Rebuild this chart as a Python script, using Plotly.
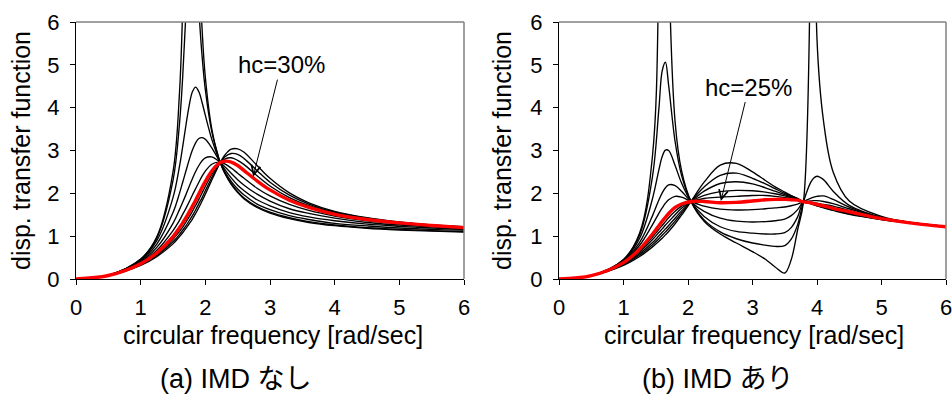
import plotly.graph_objects as go

# ---------------- (a) IMD なし : displacement transfer functions ----------------
freq_a = [0, 0.5, 1.0, 1.25, 1.5, 1.6, 1.65, 1.7, 1.75, 1.8, 1.85, 1.9, 1.95, 2.0, 2.1,
          2.2, 2.23, 2.3, 2.4, 2.5, 2.6, 2.8, 3.0, 3.3, 3.6, 4.0, 4.5, 5.0, 5.5, 6.0]

a_hc00 = [0, 0.086, 0.465, 0.984, 2.50, 4.34, 6.37, 11.1, 35.0, 36.0, 12.56, 7.85, 5.83, 4.71, 3.50,
          2.86, 2.72, 2.47, 2.21, 2.02, 1.87, 1.67, 1.54, 1.41, 1.32, 1.245, 1.184, 1.144, 1.116, 1.096]
a_hc05 = [0, 0.086, 0.460, 0.960, 2.30, 3.62, 4.72, 6.23, 7.89, 8.50, 7.58, 6.27, 5.20, 4.42, 3.44,
          2.86, 2.72, 2.48, 2.23, 2.04, 1.89, 1.69, 1.56, 1.43, 1.34, 1.26, 1.20, 1.16, 1.13, 1.11]
a_hc10 = [0, 0.086, 0.447, 0.896, 1.90, 2.63, 3.09, 3.59, 4.05, 4.37, 4.48, 4.37, 4.12, 3.82, 3.26,
          2.83, 2.72, 2.51, 2.28, 2.10, 1.96, 1.75, 1.62, 1.48, 1.39, 1.30, 1.24, 1.19, 1.16, 1.14]
a_hc15 = [0, 0.085, 0.427, 0.816, 1.55, 2.00, 2.26, 2.52, 2.78, 3.01, 3.18, 3.28, 3.30, 3.26, 3.06,
          2.80, 2.72, 2.56, 2.36, 2.19, 2.06, 1.85, 1.71, 1.55, 1.45, 1.36, 1.28, 1.23, 1.19, 1.16]
a_hc20 = [0, 0.084, 0.404, 0.739, 1.30, 1.62, 1.79, 1.97, 2.16, 2.34, 2.51, 2.65, 2.76, 2.83, 2.85,
          2.76, 2.72, 2.62, 2.47, 2.32, 2.19, 1.98, 1.82, 1.64, 1.53, 1.42, 1.32, 1.26, 1.22, 1.18]
a_hc25 = [0, 0.083, 0.381, 0.671, 1.13, 1.37, 1.51, 1.65, 1.80, 1.96, 2.11, 2.26, 2.40, 2.52, 2.68,
          2.73, 2.72, 2.69, 2.59, 2.47, 2.35, 2.12, 1.94, 1.74, 1.60, 1.47, 1.36, 1.29, 1.23, 1.19]
a_hc30 = [0, 0.081, 0.358, 0.611, 0.99, 1.20, 1.31, 1.43, 1.56, 1.70, 1.84, 1.99, 2.14, 2.28, 2.52,
          2.69, 2.72, 2.75, 2.73, 2.65, 2.53, 2.29, 2.08, 1.84, 1.67, 1.51, 1.39, 1.31, 1.25, 1.20]
a_hc33 = [0, 0.080, 0.344, 0.577, 0.93, 1.11, 1.21, 1.33, 1.45, 1.58, 1.72, 1.86, 2.01, 2.16, 2.44,
          2.67, 2.72, 2.80, 2.83, 2.77, 2.67, 2.41, 2.17, 1.90, 1.71, 1.54, 1.40, 1.32, 1.25, 1.21]
a_hc37 = [0, 0.079, 0.330, 0.548, 0.87, 1.04, 1.14, 1.24, 1.36, 1.48, 1.61, 1.76, 1.90, 2.06, 2.37,
          2.65, 2.72, 2.85, 2.93, 2.91, 2.81, 2.53, 2.26, 1.96, 1.75, 1.56, 1.42, 1.32, 1.26, 1.21]
a_hc40 = [0, 0.078, 0.318, 0.523, 0.82, 0.99, 1.08, 1.18, 1.29, 1.40, 1.53, 1.67, 1.82, 1.98, 2.31,
          2.63, 2.72, 2.89, 3.03, 3.04, 2.96, 2.65, 2.35, 2.01, 1.78, 1.58, 1.43, 1.33, 1.26, 1.22]

# ---------------- (b) IMD あり ----------------
freq_b = [0, 0.5, 1.0, 1.25, 1.45, 1.55, 1.6, 1.65, 1.7, 1.8, 1.9, 2.05, 2.25, 2.5, 2.75, 3.0,
          3.2, 3.35, 3.5, 3.6, 3.7, 3.79, 3.9, 3.95, 4.0, 4.1, 4.25, 4.5, 5.0, 5.5, 6.0]

b_hc01 = [0, 0.080, 0.457, 1.076, 2.89, 7.51, 21.8, 17.7, 7.59, 3.67, 2.53, 1.80, 1.35, 1.05, 0.84, 0.64,
          0.46, 0.28, 0.14, 0.45, 1.15, 1.80, 7.5, 16.0, 5.6, 3.70, 2.50, 1.82, 1.46, 1.31, 1.23]
b_hc06 = [0, 0.079, 0.451, 1.030, 2.40, 4.00, 4.86, 5.06, 4.52, 3.21, 2.42, 1.80, 1.38, 1.10, 0.94, 0.84,
          0.79, 0.76, 0.78, 0.93, 1.27, 1.80, 2.25, 2.36, 2.40, 2.32, 2.05, 1.72, 1.44, 1.31, 1.23]
b_hc10 = [0, 0.079, 0.439, 0.952, 1.88, 2.56, 2.86, 3.01, 3.00, 2.65, 2.24, 1.80, 1.46, 1.22, 1.11, 1.07,
          1.05, 1.05, 1.08, 1.20, 1.45, 1.80, 1.88, 1.91, 1.93, 1.94, 1.86, 1.68, 1.43, 1.31, 1.23]
b_hc15 = [0, 0.079, 0.422, 0.857, 1.48, 1.85, 2.01, 2.13, 2.20, 2.18, 2.05, 1.80, 1.58, 1.42, 1.35, 1.33,
          1.34, 1.36, 1.40, 1.48, 1.62, 1.80, 1.82, 1.83, 1.83, 1.81, 1.76, 1.64, 1.42, 1.30, 1.23]
b_hc20 = [0, 0.078, 0.407, 0.787, 1.27, 1.54, 1.66, 1.77, 1.85, 1.93, 1.91, 1.81, 1.70, 1.63, 1.61, 1.62,
          1.64, 1.66, 1.68, 1.71, 1.75, 1.80, 1.79, 1.78, 1.77, 1.74, 1.70, 1.60, 1.41, 1.30, 1.22]
b_hc25 = [0, 0.077, 0.383, 0.698, 1.05, 1.25, 1.35, 1.44, 1.53, 1.67, 1.75, 1.81, 1.81, 1.78, 1.79, 1.82,
          1.85, 1.86, 1.86, 1.85, 1.84, 1.80, 1.78, 1.76, 1.74, 1.71, 1.65, 1.57, 1.41, 1.30, 1.22]
b_hc28 = [0, 0.077, 0.372, 0.662, 0.98, 1.16, 1.25, 1.34, 1.43, 1.58, 1.70, 1.81, 1.88, 1.91, 1.93, 1.95,
          1.95, 1.93, 1.90, 1.88, 1.85, 1.80, 1.77, 1.75, 1.73, 1.69, 1.64, 1.56, 1.41, 1.30, 1.22]
b_hc30 = [0, 0.076, 0.361, 0.631, 0.92, 1.09, 1.17, 1.26, 1.34, 1.50, 1.65, 1.81, 1.95, 2.04, 2.07, 2.06,
          2.03, 1.99, 1.94, 1.90, 1.86, 1.80, 1.77, 1.75, 1.73, 1.69, 1.63, 1.55, 1.40, 1.30, 1.22]
b_hc34 = [0, 0.076, 0.347, 0.592, 0.85, 1.01, 1.09, 1.17, 1.25, 1.42, 1.59, 1.81, 2.05, 2.23, 2.27, 2.22,
          2.13, 2.05, 1.97, 1.92, 1.87, 1.80, 1.77, 1.74, 1.72, 1.68, 1.62, 1.53, 1.40, 1.30, 1.22]
b_hc38 = [0, 0.075, 0.333, 0.559, 0.80, 0.94, 1.02, 1.10, 1.18, 1.35, 1.54, 1.82, 2.15, 2.42, 2.47, 2.35,
          2.22, 2.11, 2.00, 1.94, 1.87, 1.80, 1.76, 1.74, 1.71, 1.67, 1.61, 1.52, 1.39, 1.30, 1.22]
b_hc42 = [0, 0.074, 0.318, 0.526, 0.75, 0.88, 0.95, 1.03, 1.11, 1.29, 1.49, 1.82, 2.26, 2.66, 2.70, 2.50,
          2.30, 2.15, 2.03, 1.95, 1.88, 1.80, 1.76, 1.73, 1.71, 1.66, 1.60, 1.51, 1.39, 1.30, 1.22]

axis_ticks = [0, 1, 2, 3, 4, 5, 6]
y_title = "disp. transfer function"
x_title = "circular frequency [rad/sec]"
captions = ["(a) IMD なし", "(b) IMD あり"]
labels = ["hc=30%", "hc=25%"]

FONT = "Liberation Sans, Arial, Noto Sans CJK JP, sans-serif"
W, H = 952, 396

fig = go.Figure()

def add_curve(x, y, xa, ya, red=False):
    fig.add_trace(go.Scatter(
        x=x, y=y, xaxis=xa, yaxis=ya, mode="lines",
        line=dict(color="#ff0000" if red else "#000000", width=3.4 if red else 1.35,
                  shape="spline", smoothing=1.0),
        hoverinfo="skip", showlegend=False))

for series in [a_hc00, a_hc05, a_hc10, a_hc15, a_hc20, a_hc25, a_hc33, a_hc37, a_hc40]:
    add_curve(freq_a, series, "x", "y")
add_curve(freq_a, a_hc30, "x", "y", red=True)

for series in [b_hc01, b_hc06, b_hc10, b_hc15, b_hc20, b_hc28, b_hc30, b_hc34, b_hc38, b_hc42]:
    add_curve(freq_b, series, "x2", "y2")
add_curve(freq_b, b_hc25, "x2", "y2", red=True)

# plot-area placement in pixels
left_px = (76, 464)
right_px = (559, 946)
top_px, bot_px = 22, 279
ydom = [1 - bot_px / H, 1 - top_px / H]

axis_common = dict(range=[0, 6], tickvals=axis_ticks, ticks="outside", ticklen=5,
                   tickcolor="black", showline=True, linecolor="black", linewidth=1,
                   showgrid=False, zeroline=False, ticklabeloverflow="allow",
                   tickfont=dict(size=22, color="black", family=FONT))

fig.update_layout(
    width=W, height=H, margin=dict(l=0, r=0, t=0, b=0, autoexpand=False),
    paper_bgcolor="white", plot_bgcolor="white",
    font=dict(family=FONT, color="black"),
    xaxis=dict(domain=[left_px[0] / W, left_px[1] / W], anchor="y", ticklabelstandoff=4, **axis_common),
    yaxis=dict(domain=ydom, anchor="x", ticklabelstandoff=6, **axis_common),
    xaxis2=dict(domain=[right_px[0] / W, right_px[1] / W], anchor="y2", ticklabelstandoff=4, **axis_common),
    yaxis2=dict(domain=ydom, anchor="x2", ticklabelstandoff=6, **axis_common),
)

# grey frame on the top and right edges of each plot area
for xr, yr in [("x", "y"), ("x2", "y2")]:
    fig.add_shape(type="line", xref=f"{xr} domain", yref=f"{yr} domain",
                  x0=0, x1=1, y0=1, y1=1, line=dict(color="#808080", width=1.5))
    fig.add_shape(type="line", xref=f"{xr} domain", yref=f"{yr} domain",
                  x0=1, x1=1, y0=0, y1=1, line=dict(color="#808080", width=1.5))

ann = []
for cx_ytitle, cx_xtitle, cx_cap, cap in [(21, 273, 236, captions[0]), (502, 754, 718, captions[1])]:
    ann.append(dict(text=y_title, x=cx_ytitle / W, y=1 - 151 / H, xref="paper", yref="paper",
                    textangle=-90, showarrow=False, xanchor="center", yanchor="middle",
                    font=dict(size=25, family=FONT)))
    ann.append(dict(text=x_title, x=cx_xtitle / W, y=1 - 335 / H, xref="paper", yref="paper",
                    showarrow=False, xanchor="center", yanchor="middle",
                    font=dict(size=25, family=FONT)))
    ann.append(dict(text=cap, x=cx_cap / W, y=1 - 379 / H, xref="paper", yref="paper",
                    showarrow=False, xanchor="center", yanchor="middle",
                    font=dict(size=27, family=FONT)))

# hc labels with pointer lines to the highlighted curves
ann.append(dict(text=labels[0], x=2.74, y=2.39, xref="x", yref="y", ax=28, ay=-112,
                showarrow=True, arrowhead=5, arrowsize=1.8, arrowwidth=1, arrowcolor="black",
                font=dict(size=24, family=FONT)))
ann.append(dict(text=labels[1], x=2.51, y=1.82, xref="x2", yref="y2", ax=28, ay=-114,
                showarrow=True, arrowhead=5, arrowsize=1.8, arrowwidth=1, arrowcolor="black",
                font=dict(size=24, family=FONT)))
fig.update_layout(annotations=ann)

fig.write_html("out.html")
